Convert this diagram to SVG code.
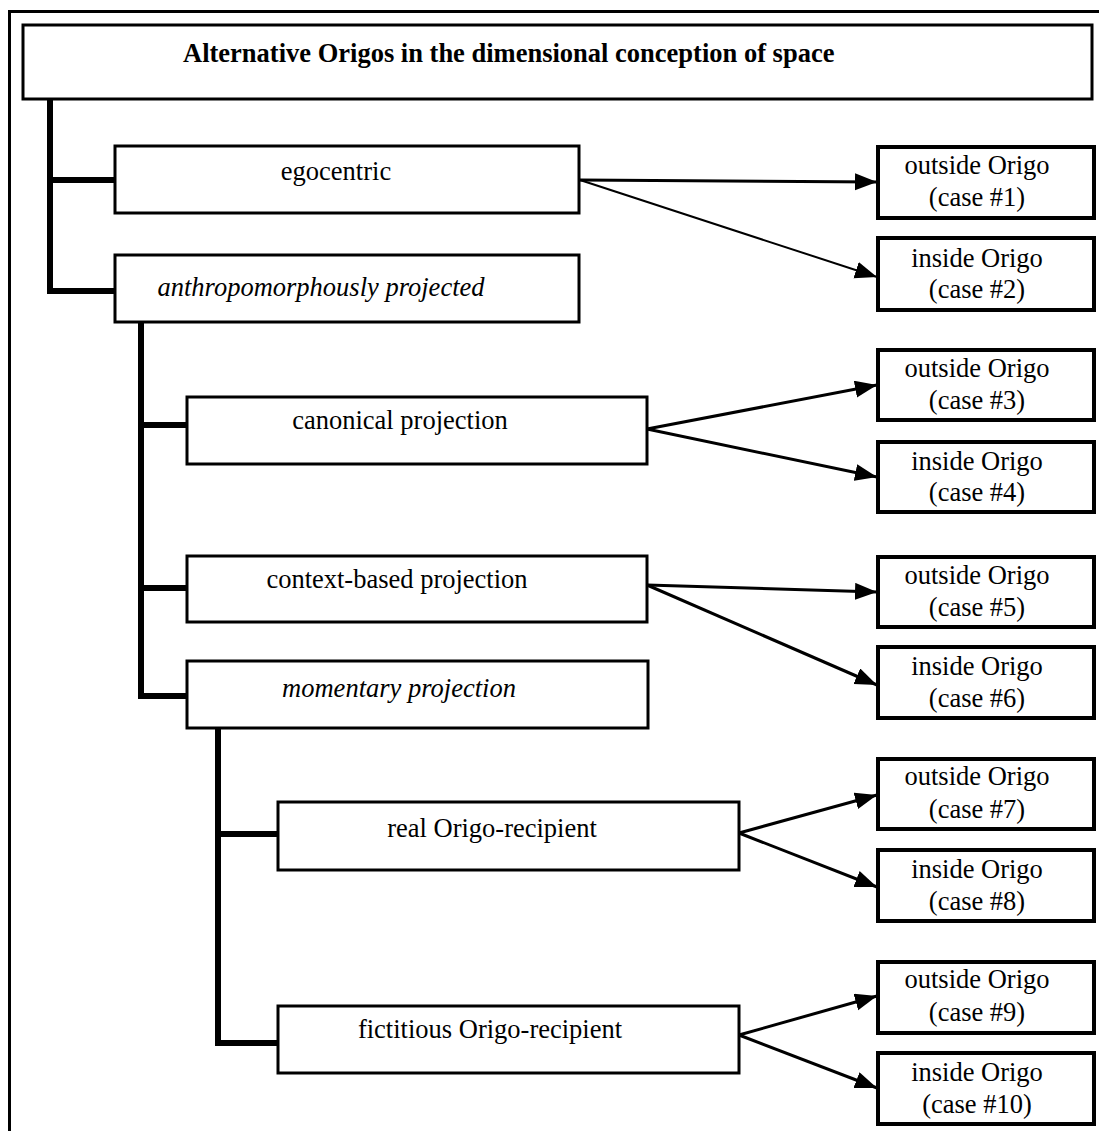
<svg xmlns="http://www.w3.org/2000/svg" width="1099" height="1131" viewBox="0 0 1099 1131">
<style>
  text { font-family: "Liberation Serif", "Times New Roman", serif; font-size: 26.5px; fill: #000; }
  .title { font-weight: bold; }
  .it { font-style: italic; }
  .box { fill: #fff; stroke: #000; stroke-width: 3; }
  .leaf { fill: #fff; stroke: #000; stroke-width: 4; }
  .bus { fill: none; stroke: #000; stroke-width: 6; stroke-linejoin: miter; }
  .arr { fill: none; stroke: #000; stroke-width: 3; marker-end: url(#ah); }
  .frame { fill: none; stroke: #000; stroke-width: 3; }
</style>
<defs>
  <marker id="ah" markerUnits="userSpaceOnUse" markerWidth="23" markerHeight="18" refX="22" refY="8.5" orient="auto">
    <path d="M0,0 L22,8.5 L0,17 z" fill="#000"/>
  </marker>
</defs>
<rect width="1099" height="1131" fill="#fff"/>
<path class="frame" d="M9.5,1131 V11.5 H1099"/>

<g id="connectors">
  <path class="bus" d="M50,99 V291 H115 M50,180 H115"/>
  <path class="bus" d="M141,322 V696 H187 M141,425 H187 M141,588 H187"/>
  <path class="bus" d="M218,728 V1043 H278 M218,834 H278"/>
  <line class="arr" x1="580" y1="180" x2="877" y2="182"/>
  <line class="arr" x1="580" y1="180" x2="877" y2="277" style="stroke-width:2"/>
  <line class="arr" x1="647" y1="429" x2="877" y2="385"/>
  <line class="arr" x1="647" y1="429" x2="877" y2="477"/>
  <line class="arr" x1="647" y1="585" x2="877" y2="592"/>
  <line class="arr" x1="647" y1="585" x2="877" y2="685"/>
  <line class="arr" x1="739" y1="833" x2="877" y2="795"/>
  <line class="arr" x1="739" y1="833" x2="877" y2="887"/>
  <line class="arr" x1="739" y1="1035" x2="877" y2="996"/>
  <line class="arr" x1="739" y1="1035" x2="877" y2="1088"/>
</g>

<g id="title">
  <rect class="box" x="23" y="25" width="1069" height="74"/>
  <text class="title" x="183" y="62">Alternative Origos in the dimensional conception of space</text>
</g>
<g id="egocentric">
  <rect class="box" x="115" y="146" width="464" height="67"/>
  <text x="336" y="180" text-anchor="middle">egocentric</text>
</g>
<g id="anthropomorphously">
  <rect class="box" x="115" y="255" width="464" height="67"/>
  <text class="it" x="321" y="296" text-anchor="middle">anthropomorphously projected</text>
</g>
<g id="canonical">
  <rect class="box" x="187" y="397" width="460" height="67"/>
  <text x="400" y="429" text-anchor="middle">canonical projection</text>
</g>
<g id="context">
  <rect class="box" x="187" y="556" width="460" height="66"/>
  <text x="397" y="588" text-anchor="middle">context-based projection</text>
</g>
<g id="momentary">
  <rect class="box" x="187" y="661" width="461" height="67"/>
  <text class="it" x="399" y="697" text-anchor="middle">momentary projection</text>
</g>
<g id="real">
  <rect class="box" x="278" y="802" width="461" height="68"/>
  <text x="492" y="837" text-anchor="middle">real Origo-recipient</text>
</g>
<g id="fictitious">
  <rect class="box" x="278" y="1006" width="461" height="67"/>
  <text x="490" y="1038" text-anchor="middle">fictitious Origo-recipient</text>
</g>

<g id="case1"><rect class="leaf" x="878" y="147" width="216" height="71"/><text x="977" y="174" text-anchor="middle">outside Origo</text><text x="977" y="206" text-anchor="middle">(case #1)</text></g>
<g id="case2"><rect class="leaf" x="878" y="238" width="216" height="72"/><text x="977" y="267" text-anchor="middle">inside Origo</text><text x="977" y="298" text-anchor="middle">(case #2)</text></g>
<g id="case3"><rect class="leaf" x="878" y="350" width="216" height="70"/><text x="977" y="377" text-anchor="middle">outside Origo</text><text x="977" y="409" text-anchor="middle">(case #3)</text></g>
<g id="case4"><rect class="leaf" x="878" y="442" width="216" height="70"/><text x="977" y="470" text-anchor="middle">inside Origo</text><text x="977" y="501" text-anchor="middle">(case #4)</text></g>
<g id="case5"><rect class="leaf" x="878" y="557" width="216" height="70"/><text x="977" y="584" text-anchor="middle">outside Origo</text><text x="977" y="616" text-anchor="middle">(case #5)</text></g>
<g id="case6"><rect class="leaf" x="878" y="647" width="216" height="71"/><text x="977" y="675" text-anchor="middle">inside Origo</text><text x="977" y="707" text-anchor="middle">(case #6)</text></g>
<g id="case7"><rect class="leaf" x="878" y="759" width="216" height="70"/><text x="977" y="785" text-anchor="middle">outside Origo</text><text x="977" y="818" text-anchor="middle">(case #7)</text></g>
<g id="case8"><rect class="leaf" x="878" y="850" width="216" height="71"/><text x="977" y="878" text-anchor="middle">inside Origo</text><text x="977" y="910" text-anchor="middle">(case #8)</text></g>
<g id="case9"><rect class="leaf" x="878" y="962" width="216" height="71"/><text x="977" y="988" text-anchor="middle">outside Origo</text><text x="977" y="1021" text-anchor="middle">(case #9)</text></g>
<g id="case10"><rect class="leaf" x="878" y="1053" width="216" height="71"/><text x="977" y="1081" text-anchor="middle">inside Origo</text><text x="977" y="1113" text-anchor="middle">(case #10)</text></g>
</svg>
